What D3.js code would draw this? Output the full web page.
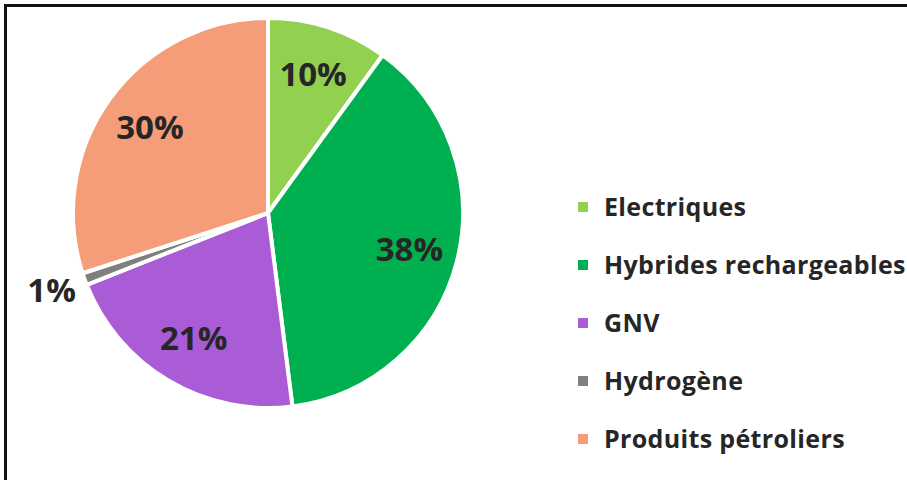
<!DOCTYPE html>
<html>
<head>
<meta charset="utf-8">
<script src="https://cdn.jsdelivr.net/npm/d3@7"></script>
<style>
  html, body { margin: 0; padding: 0; background: #fff; }
  svg { display: block; }
</style>
</head>
<body>
<svg id="chart" width="907" height="480"></svg>
<script>
// Energy mix shares (percent), clockwise from 12 o'clock
const categories = ["Electriques", "Hybrides rechargeables", "GNV", "Hydrogène", "Produits pétroliers"];
const shares = [10, 38, 21, 1, 30];
const sliceLabels = ["10%", "38%", "21%", "1%", "30%"];
const colours = ["#92D050", "#00B050", "#A95CD6", "#7F7F7F", "#F59D78"];

const svg = d3.select("#chart");
const font = "'Open Sans', Lato, sans-serif";
const textColour = "#262626";

// outer frame (runs off the right and bottom edges)
svg.append("rect")
  .attr("x", 5.5).attr("y", 5.5)
  .attr("width", 1200).attr("height", 1200)
  .attr("fill", "none")
  .attr("stroke", "#111")
  .attr("stroke-width", 3);

const cx = 268, cy = 213, R = 195;

const colour = d3.scaleOrdinal().domain(categories).range(colours);

const pie = d3.pie().sort(null).value(d => d.value);
const data = categories.map((c, i) => ({ name: c, value: shares[i], label: sliceLabels[i] }));
const arcs = pie(data);

const arc = d3.arc().innerRadius(0).outerRadius(R);
const labelArc = d3.arc().innerRadius(146).outerRadius(146);
const outerLabelArc = d3.arc().innerRadius(230).outerRadius(230);

const g = svg.append("g").attr("transform", `translate(${cx},${cy})`);

g.selectAll("path.slice")
  .data(arcs)
  .join("path")
  .attr("class", "slice")
  .attr("d", arc)
  .attr("fill", d => colour(d.data.name))
  .attr("stroke", "#fff")
  .attr("stroke-width", 4)
  .attr("stroke-linejoin", "round");

// percentage labels: inside for large slices, outside for the thin one
g.selectAll("text.pct")
  .data(arcs)
  .join("text")
  .attr("class", "pct")
  .attr("transform", d => {
    const p = d.data.value < 5 ? outerLabelArc.centroid(d) : labelArc.centroid(d);
    return `translate(${p[0]},${p[1]})`;
  })
  .attr("text-anchor", "middle")
  .attr("dy", "0.35em")
  .attr("font-family", font)
  .attr("font-weight", 700)
  .attr("font-size", 33)
  .attr("fill", textColour)
  .text(d => d.data.label);

// legend
const legend = svg.append("g").attr("transform", "translate(578,207)");
const rowGap = 58;
const items = legend.selectAll("g.item")
  .data(categories)
  .join("g")
  .attr("class", "item")
  .attr("transform", (d, i) => `translate(0,${i * rowGap})`);

items.append("rect")
  .attr("x", 0).attr("y", -5)
  .attr("width", 10).attr("height", 10)
  .attr("fill", d => colour(d));

items.append("text")
  .attr("x", 26).attr("y", 0)
  .attr("dy", "0.35em")
  .attr("font-family", font)
  .attr("font-weight", 700)
  .attr("font-size", 25)
  .attr("letter-spacing", 0.35)
  .attr("fill", textColour)
  .text(d => d);
</script>
</body>
</html>
